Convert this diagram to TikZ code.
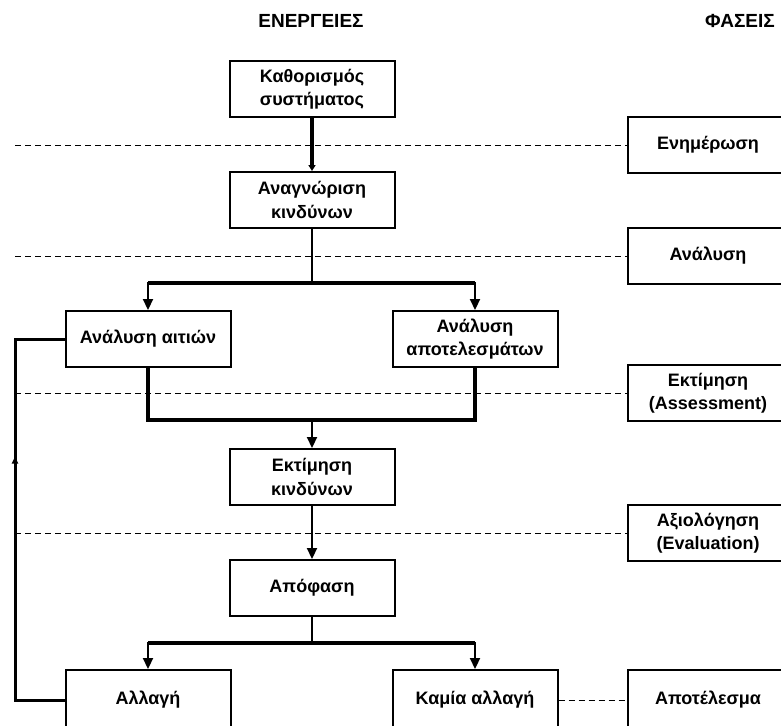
\documentclass[tikz,border=0pt]{standalone}
\usepackage{fontspec}
\setmainfont{Liberation Sans}
\usetikzlibrary{arrows.meta,decorations.markings}
\begin{document}
\begin{tikzpicture}[x=1pt,y=-1pt,
  font=\fontsize{18}{23.5}\selectfont\bfseries,
  stepbox/.style={draw,line width=2pt,minimum width=165pt,minimum height=56pt,
    inner sep=0pt,align=center},
  phasebox/.style={draw,line width=2pt,minimum width=160pt,minimum height=56pt,
    inner sep=0pt,align=center},
  title/.style={inner sep=0pt,font=\fontsize{19}{24}\selectfont\bfseries},
  conn/.style={line width=2.2pt},
  bar/.style={line width=3.5pt},
  arr/.style={line width=2.2pt,-{Triangle[width=10pt,length=11pt]}},
  sep/.style={dashed,line width=1pt,dash pattern=on 6pt off 4pt}]
\clip (0,0) rectangle (781,725);

% column headings
\node[title] (h1) at (311,21) {ΕΝΕΡΓΕΙΕΣ};
\node[title] (h2) at (740,21) {ΦΑΣΕΙΣ};

% activities
\node[stepbox] (A) at (312,89)  {Καθορισμός\\συστήματος};
\node[stepbox] (B) at (312,200) {Αναγνώριση\\κινδύνων};
\node[stepbox] (C) at (148,339) {Ανάλυση αιτιών};
\node[stepbox] (D) at (475,339) {Ανάλυση\\αποτελεσμάτων};
\node[stepbox] (E) at (312,477) {Εκτίμηση\\κινδύνων};
\node[stepbox] (F) at (312,588) {Απόφαση};
\node[stepbox,minimum height=60pt] (G) at (148,700) {Αλλαγή};
\node[stepbox,minimum height=60pt] (H) at (475,700) {Καμία αλλαγή};

% phases
\node[phasebox] (P1) at (708,145) {Ενημέρωση};
\node[phasebox] (P2) at (708,256) {Ανάλυση};
\node[phasebox] (P3) at (708,393) {Εκτίμηση\\(Assessment)};
\node[phasebox] (P4) at (708,533) {Αξιολόγηση\\(Evaluation)};
\node[phasebox,minimum height=60pt] (P5) at (708,700) {Αποτέλεσμα};

% phase separators
\coordinate (s1) at (15,145);
\coordinate (s2) at (15,256);
\coordinate (s3) at (15,393);
\coordinate (s4) at (15,533);
\draw[sep] (s1) -- (P1.west);
\draw[sep] (s2) -- (P2.west);
\draw[sep] (s3) -- (P3.west);
\draw[sep] (s4) -- (P4.west);
\draw[sep] (H.east) -- (P5.west);

% flow
\draw[line width=3.5pt,-{Triangle[width=7pt,length=6pt]}] (A.south) -- (B.north);

\coordinate (j1) at (312,283);
\draw[conn] (B.south) -- (j1);
\draw[bar] (148,283) -- (475,283);
\draw[arr] (j1) -| (C.north);
\draw[arr] (j1) -| (D.north);

\coordinate (j2) at (312,420);
\draw[bar] (C.south) |- (j2) -| (D.south);
\draw[arr] (j2) -- (E.north);

\draw[arr] (E.south) -- (F.north);

\coordinate (j3) at (312,643);
\draw[conn] (F.south) -- (j3);
\draw[bar] (148,643) -- (475,643);
\draw[arr] (j3) -| (G.north);
\draw[arr] (j3) -| (H.north);

% feedback loop
\coordinate (l1) at (15,700);
\coordinate (l2) at (15,339);
\draw[line width=3pt,
  postaction={decorate},
  decoration={markings,
    mark=at position 293pt with {\arrow{Triangle[width=6pt,length=7pt]}}}]
  (G.west) -- (l1) -- (l2) -- (C.west);
\end{tikzpicture}
\end{document}
